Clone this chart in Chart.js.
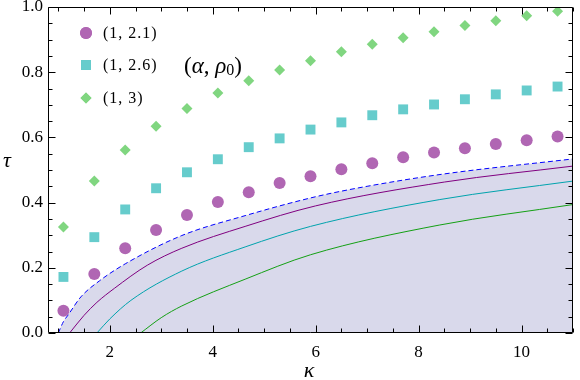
<!DOCTYPE html>
<html>
<head>
<meta charset="utf-8">
<script src="https://cdn.jsdelivr.net/npm/chart.js@4.4.1/dist/chart.umd.min.js"></script>
<style>
  html, body { margin: 0; padding: 0; background: #fff; }
  #wrap { width: 580px; height: 380px; }
</style>
</head>
<body>
<div id="wrap"><canvas id="chart" width="580" height="380"></canvas></div>
<script>
// kappa values of the markers
var kappa = [1.1, 1.7, 2.3, 2.9, 3.5, 4.1, 4.7, 5.3, 5.9, 6.5, 7.1, 7.7, 8.3, 8.9, 9.5, 10.1, 10.7];
// tau for (alpha, rho0) = (1, 2.1), (1, 2.6), (1, 3)
var tau21 = [0.068, 0.181, 0.260, 0.316, 0.362, 0.402, 0.432, 0.460, 0.481, 0.502, 0.521, 0.539, 0.554, 0.567, 0.580, 0.591, 0.603];
var tau26 = [0.172, 0.294, 0.379, 0.444, 0.493, 0.533, 0.570, 0.597, 0.624, 0.646, 0.668, 0.686, 0.701, 0.717, 0.732, 0.744, 0.756];
var tau3  = [0.325, 0.466, 0.561, 0.634, 0.689, 0.736, 0.774, 0.807, 0.835, 0.863, 0.886, 0.906, 0.924, 0.943, 0.958, 0.973, 0.987];

// boundary curves
var boundK = [1.0, 1.1, 1.19, 1.44, 1.8, 2.31, 3.4, 4.63, 6.0, 7.0, 8.5, 11];
var boundT = [0, 0.035, 0.055, 0.111, 0.16, 0.213, 0.299, 0.36, 0.418, 0.45, 0.488, 0.534];
var purpK = [1.22, 1.5, 1.75, 2.09, 2.73, 3.4, 4.63, 6.0, 8.5, 11];
var purpT = [0, 0.054, 0.094, 0.137, 0.208, 0.26, 0.327, 0.39, 0.463, 0.512];
var cyanK = [1.75, 2.0, 2.41, 3.4, 4.63, 5.9, 8.4, 11];
var cyanT = [0, 0.043, 0.10, 0.19, 0.264, 0.327, 0.409, 0.466];
var greenK = [2.6, 3.0, 3.4, 4.63, 5.9, 8.4, 11];
var greenT = [0, 0.047, 0.083, 0.165, 0.24, 0.331, 0.394];

var xTicks = [2, 4, 6, 8, 10];
var yTicks = [0, 0.2, 0.4, 0.6, 0.8, 1.0];

var legendLabels = ['(1, 2.1)', '(1, 2.6)', '(1, 3)'];

var serif = "'Liberation Serif', 'Times New Roman', Times, serif";

function pts(xs, ys) {
  return xs.map(function (x, i) { return { x: x, y: ys[i] }; });
}

function curve(xs, ys, color, extra) {
  var ds = {
    data: pts(xs, ys),
    showLine: true,
    borderColor: color,
    borderWidth: 1,
    pointRadius: 0,
    cubicInterpolationMode: 'monotone',
    fill: false
  };
  for (var k in extra) ds[k] = extra[k];
  return ds;
}

var markerStyles = [
  { style: 'circle', color: '#b066b3', r: 6 },
  { style: 'rect', color: '#66cccc', r: 7 },
  { style: 'rectRot', color: '#80d680', r: 5.5 }
];

// frame, inward ticks, legend and the (alpha, rho0) note
var framePlugin = {
  id: 'frame',
  afterDatasetsDraw: function (chart) {
    var ctx = chart.ctx, a = chart.chartArea;
    var xs = chart.scales.x, ys = chart.scales.y;
    var L = Math.round(a.left) + 0.5, R = Math.round(a.right) - 0.5;
    var T = Math.round(a.top) + 0.5, B = Math.round(a.bottom) - 0.5;
    ctx.save();
    ctx.strokeStyle = '#000';
    ctx.lineWidth = 1;
    ctx.beginPath();
    ctx.rect(L, T, R - L, B - T);
    // x ticks
    for (var v = 1; v <= 11.001; v += 0.5) {
      var px = Math.round(xs.getPixelForValue(v)) + 0.5;
      var len = (Math.abs(v % 2) < 1e-6) ? 7 : 4;
      ctx.moveTo(px, B); ctx.lineTo(px, B - len);
      ctx.moveTo(px, T); ctx.lineTo(px, T + len);
    }
    // y ticks
    for (var i = 0; i <= 20; i++) {
      var py = Math.round(ys.getPixelForValue(i * 0.05)) + 0.5;
      var ylen = (i % 4 === 0) ? 7 : 4;
      ctx.moveTo(L, py); ctx.lineTo(L + ylen, py);
      ctx.moveTo(R, py); ctx.lineTo(R - ylen, py);
    }
    ctx.stroke();

    // legend
    ctx.font = '16px ' + serif;
    ctx.fillStyle = '#000';
    ctx.textBaseline = 'middle';
    if ('letterSpacing' in ctx) ctx.letterSpacing = '1px';
    var ly = [33, 65, 98];
    legendLabels.forEach(function (lab, k) {
      var m = markerStyles[k];
      ctx.fillStyle = m.color;
      ctx.strokeStyle = m.color;
      Chart.helpers.drawPoint(ctx, { pointStyle: m.style, radius: m.r, rotation: 0, borderWidth: 0 }, 86, ly[k]);
      ctx.fill();
      ctx.fillStyle = '#000';
      ctx.fillText(lab, 103, ly[k] + 1);
    });
    if ('letterSpacing' in ctx) ctx.letterSpacing = '0px';

    // (alpha, rho_0)
    var x = 184, y = 67;
    ctx.textBaseline = 'middle';
    function part(txt, font, dy) {
      ctx.font = font;
      ctx.fillText(txt, x, y + (dy || 0));
      x += ctx.measureText(txt).width;
    }
    part('(', '23px ' + serif);
    part('\u03b1', 'italic 23px ' + serif);
    part(', ', '23px ' + serif);
    part('\u03c1', 'italic 23px ' + serif);
    part('0', '16px ' + serif, 4);
    part(')', '23px ' + serif);

    // axis titles
    ctx.font = 'italic 22px ' + serif;
    ctx.textAlign = 'center';
    ctx.fillText('\u03c4', 7, 161);
    ctx.fillText('\u03ba', 309, 371);
    ctx.restore();
  }
};

new Chart(document.getElementById('chart'), {
  type: 'scatter',
  data: {
    datasets: [
      {
        data: pts(kappa, tau21),
        pointStyle: 'circle', pointRadius: 6,
        backgroundColor: markerStyles[0].color, borderWidth: 0, order: 1
      },
      {
        data: pts(kappa, tau26),
        pointStyle: 'rect', pointRadius: 7,
        backgroundColor: markerStyles[1].color, borderWidth: 0, order: 1
      },
      {
        data: pts(kappa, tau3),
        pointStyle: 'rectRot', pointRadius: 5.5,
        backgroundColor: markerStyles[2].color, borderWidth: 0, order: 1
      },
      curve(purpK, purpT, '#800080', { order: 2 }),
      curve(cyanK, cyanT, '#00a3ad', { order: 2 }),
      curve(greenK, greenT, '#14a014', { order: 2 }),
      curve(boundK, boundT, '#0000ff', {
        order: 3,
        borderDash: [5, 3],
        fill: 'origin',
        backgroundColor: 'rgb(217, 217, 235)'
      })
    ]
  },
  options: {
    responsive: false,
    animation: false,
    layout: { padding: { top: 6, right: 2, left: 0, bottom: 0 } },
    plugins: {
      legend: { display: false },
      tooltip: { enabled: false }
    },
    scales: {
      x: {
        type: 'linear', min: 0.8, max: 11,
        afterBuildTicks: function (s) { s.ticks = xTicks.map(function (v) { return { value: v }; }); },
        afterFit: function (s) { s.height = 47; s.paddingLeft = 0; s.paddingRight = 0; },
        grid: { display: false, drawTicks: false },
        border: { display: false },
        ticks: {
          color: '#000', padding: 9,
          font: { family: serif, size: 17 },
          callback: function (v) { return String(v); }
        }
      },
      y: {
        type: 'linear', min: 0, max: 1,
        afterBuildTicks: function (s) { s.ticks = yTicks.map(function (v) { return { value: v }; }); },
        afterFit: function (s) { s.width = 48; s.paddingTop = 0; s.paddingBottom = 0; },
        grid: { display: false, drawTicks: false },
        border: { display: false },
        ticks: {
          color: '#000', padding: 5,
          font: { family: serif, size: 17 },
          callback: function (v) { return v.toFixed(1); }
        }
      }
    }
  },
  plugins: [framePlugin]
});
</script>
</body>
</html>
